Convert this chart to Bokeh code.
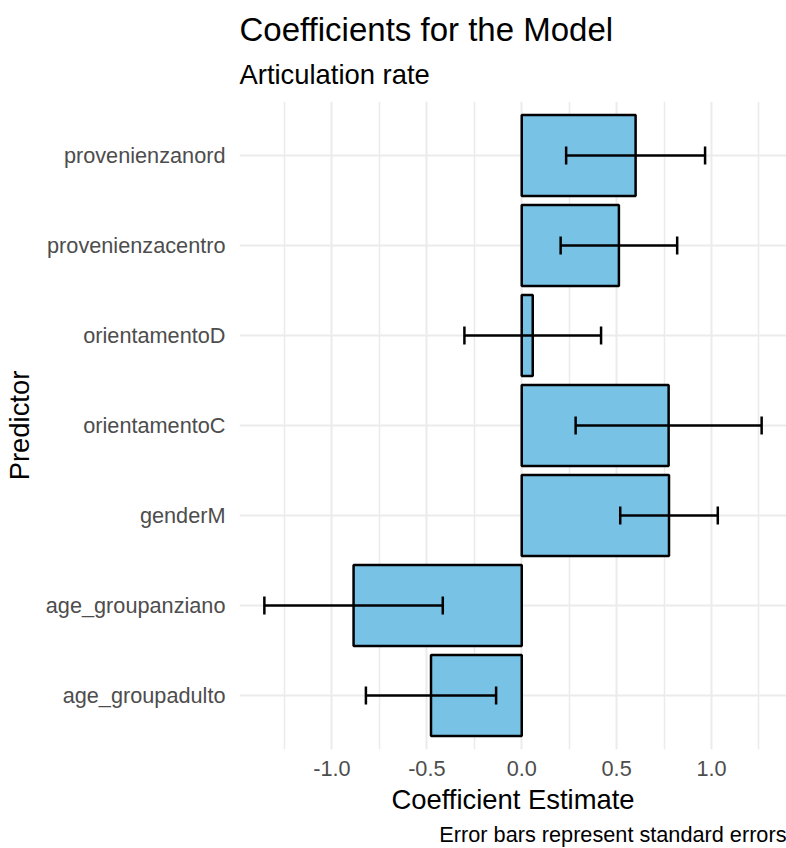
from bokeh.plotting import figure
from bokeh.models import FactorRange, Range1d, FixedTicker, Title, ColumnDataSource
from bokeh.transform import dodge
from bokeh.embed import file_html
from bokeh.resources import INLINE

# Model coefficients (bottom to top as drawn)
predictors = ["age_groupadulto", "age_groupanziano", "genderM", "orientamentoC",
              "orientamentoD", "provenienzacentro", "provenienzanord"]
estimates = [-0.478, -0.886, 0.776, 0.774, 0.058, 0.512, 0.600]
std_errors = [0.343, 0.470, 0.257, 0.490, 0.360, 0.307, 0.366]

x_ticks = [-1.0, -0.5, 0.0, 0.5, 1.0]
x_tick_labels = ["-1.0", "-0.5", "0.0", "0.5", "1.0"]
x_minor_ticks = [-1.25, -0.75, -0.25, 0.25, 0.75, 1.25]

FONT = "Liberation Sans"

lower = [e - s for e, s in zip(estimates, std_errors)]
upper = [e + s for e, s in zip(estimates, std_errors)]
src = ColumnDataSource(dict(pred=predictors, est=estimates, lo=lower, hi=upper))

# x extent: data span (incl. zero) widened by 5% on each side
x_min = min(lower + [0.0])
x_max = max(upper + [0.0])
pad = 0.05 * (x_max - x_min)

p = figure(width=786, height=848, output_backend="svg", toolbar_location=None,
           y_range=FactorRange(factors=predictors, range_padding=0.1,
                               range_padding_units="absolute"),
           x_range=Range1d(x_min - pad, x_max + pad),
           min_border_left=239, min_border_right=0, min_border_top=101,
           min_border_bottom=97)
p.outline_line_color = None
p.background_fill_color = "white"
p.border_fill_color = "white"

# grid
p.xaxis.ticker = FixedTicker(ticks=x_ticks, minor_ticks=x_minor_ticks)
p.xgrid.grid_line_color = "#EBEBEB"
p.xgrid.grid_line_width = 2
p.xgrid.minor_grid_line_color = "#EBEBEB"
p.xgrid.minor_grid_line_width = 1.5
p.ygrid.grid_line_color = "#EBEBEB"
p.ygrid.grid_line_width = 2

# bars
p.hbar(y="pred", left=0, right="est", height=0.9, source=src,
       fill_color="#78C2E6", line_color="black", line_width=2.5)

# error bars with caps
p.segment(x0="lo", x1="hi", y0="pred", y1="pred", source=src,
          line_color="black", line_width=2.5)
for col in ("lo", "hi"):
    p.segment(x0=col, x1=col,
              y0=dodge("pred", -0.1, range=p.y_range),
              y1=dodge("pred", 0.1, range=p.y_range),
              source=src, line_color="black", line_width=2.5)

# axes
for ax in (p.xaxis, p.yaxis):
    ax.axis_line_color = None
    ax.major_tick_line_color = None
    ax.minor_tick_line_color = None
    ax.major_tick_out = 0
    ax.major_label_text_font = FONT
    ax.major_label_text_font_size = "21.7px"
    ax.major_label_text_color = "#4D4D4D"
    ax.axis_label_text_font = FONT
    ax.axis_label_text_font_size = "27.4px"
    ax.axis_label_text_font_style = "normal"
    ax.axis_label_text_color = "black"

p.xaxis.major_label_overrides = {t: s for t, s in zip(x_ticks, x_tick_labels)}
p.xaxis.major_label_standoff = 7
p.xaxis.axis_label = "Coefficient Estimate"
p.xaxis.axis_label_standoff = 5
p.yaxis.major_label_standoff = 14
p.yaxis.axis_label = "Predictor"
p.yaxis.axis_label_standoff = 8

# titles and caption
p.add_layout(Title(text="Error bars represent standard errors", align="right",
                   text_font=FONT, text_font_size="21.7px",
                   text_font_style="normal", text_color="black", standoff=4), "below")
p.add_layout(Title(text="Articulation rate", align="left", text_font=FONT,
                   text_font_size="27.4px", text_font_style="normal",
                   text_color="black", standoff=24), "above")
p.add_layout(Title(text="Coefficients for the Model", align="left", text_font=FONT,
                   text_font_size="33px", text_font_style="normal",
                   text_color="black", standoff=-6), "above")

open("out.html", "w").write(file_html(p, INLINE))
